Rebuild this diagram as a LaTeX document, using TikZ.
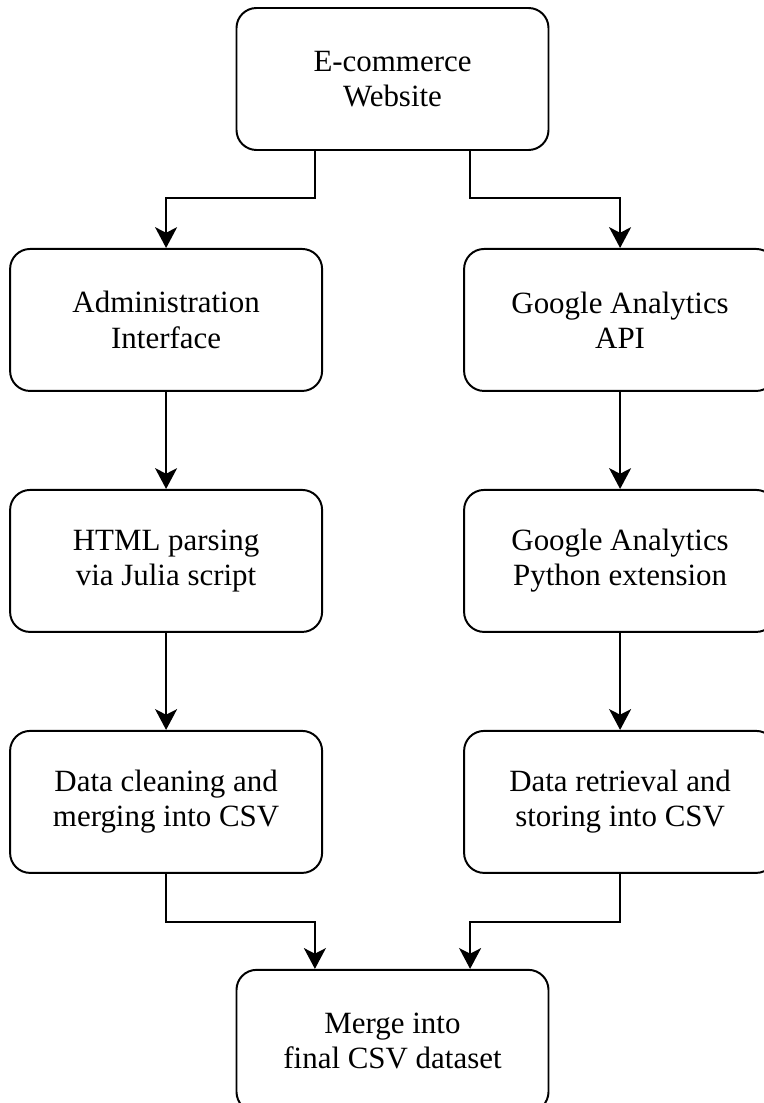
\documentclass[tikz,border=0pt]{standalone}
\usepackage{fontspec}
\setmainfont{Liberation Serif}
\usetikzlibrary{arrows.meta, positioning}

\begin{document}
\begin{tikzpicture}
	\tikzset {->, >={Stealth[length=0.52cm, width=0.55cm, inset=0.14cm]}, every path/.style={line width=1.4pt}, node distance=2.425cm,
		block/.style={draw, line width=1.4pt, rounded corners=0.5cm, minimum width=7.8cm, minimum height=3.55cm, align=center, font=\fontsize{22}{25}\selectfont} }

	\useasboundingbox (-9.8125,1.975) rectangle (9.2625,-25.6);

	\node[block] (web) {E-commerce\\Website};
	\node[block, below=of web, xshift=-5.66cm] (admin) {Administration\\Interface};
	\node[block, below=of web, xshift=5.69cm] (gaapi) {Google Analytics\\API};
	\node[block, below=of admin] (html) {HTML parsing\\via Julia script};
	\node[block, below=of gaapi] (gapy) {Google Analytics\\Python extension};
	\node[block, below=of html] (clean) {Data cleaning and\\merging into CSV};
	\node[block, below=of gapy] (store) {Data retrieval and\\storing into CSV};
	\node[block, below=2.375cm of clean, xshift=5.66cm] (merge) {Merge into\\final CSV dataset};

	\draw ([xshift=-1.94cm]web.south) -- ++(0,-1.175) -| (admin.north);
	\draw ([xshift=1.94cm]web.south) -- ++(0,-1.175) -| (gaapi.north);
	\draw (admin) -- (html);
	\draw (html) -- (clean);
	\draw (gaapi) -- (gapy);
	\draw (gapy) -- (store);
	\draw (clean.south) -- ++(0,-1.2) -| ([xshift=-1.94cm]merge.north);
	\draw (store.south) -- ++(0,-1.2) -| ([xshift=1.94cm]merge.north);
\end{tikzpicture}
\end{document}
